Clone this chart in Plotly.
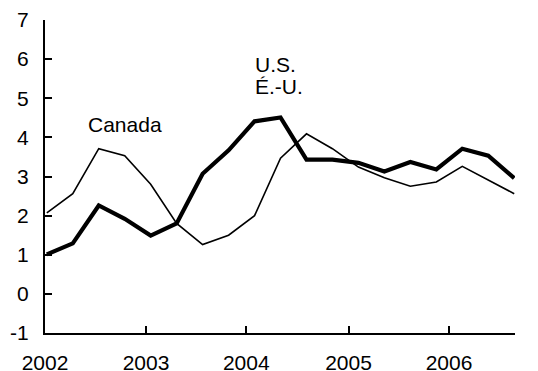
import plotly.graph_objects as go

# Quarterly observations, 2002Q1 .. 2006Q3
quarters = [f"{y}Q{q}" for y in range(2002, 2007) for q in range(1, 5)][:19]
canada = [2.07, 2.56, 3.71, 3.53, 2.80, 1.80, 1.26, 1.50, 2.00, 3.47,
          4.09, 3.71, 3.24, 2.97, 2.75, 2.86, 3.26, 2.92, 2.56]
us = [1.01, 1.29, 2.26, 1.92, 1.49, 1.80, 3.07, 3.67, 4.41, 4.51,
      3.43, 3.43, 3.35, 3.13, 3.37, 3.18, 3.71, 3.53, 2.96]
year_labels = ["2002", "2003", "2004", "2005", "2006"]
year_tick_pos = [-0.07, 3.82, 7.68, 11.62, 15.49]
y_ticks = list(range(-1, 8))
y_tick_labels = ["-1", "0", "1", "2", "3", "4", "5", "6", "7"]

FONT = "Liberation Sans, Arial, Helvetica, sans-serif"
idx = list(range(len(quarters)))

fig = go.Figure()
fig.add_trace(go.Scatter(x=idx, y=canada, mode="lines", name="Canada",
                         line=dict(color="black", width=1.6),
                         customdata=quarters, hovertemplate="%{customdata}: %{y}<extra>Canada</extra>"))
fig.add_trace(go.Scatter(x=idx, y=us, mode="lines", name="U.S. / É.-U.",
                         line=dict(color="black", width=4.2),
                         customdata=quarters, hovertemplate="%{customdata}: %{y}<extra>U.S.</extra>"))

# the page body adds an 8px offset; margins compensate so the plot lands where the reference has it
fig.update_layout(
    width=538, height=371,
    autosize=False,
    margin=dict(l=37, r=31, t=12, b=46, autoexpand=False),
    paper_bgcolor="white", plot_bgcolor="white",
    showlegend=False,
    font=dict(family=FONT, size=21, color="black"),
    xaxis=dict(range=[-0.07, 18.03], tickmode="array", tickvals=year_tick_pos,
               ticktext=year_labels, ticks="inside", ticklen=7, tickwidth=2,
               tickcolor="black", showline=True, linewidth=2, linecolor="black",
               showgrid=False, zeroline=False, ticklabelstandoff=10,
               automargin=False, tickfont=dict(size=21)),
    yaxis=dict(range=[-1, 7], tickmode="array", tickvals=y_ticks,
               ticktext=y_tick_labels,
               ticks="inside", ticklen=7, tickwidth=2, tickcolor="black",
               showline=True, linewidth=2, linecolor="black",
               showgrid=False, zeroline=False, ticklabelstandoff=10,
               automargin=False, tickfont=dict(size=21)),
    annotations=[
        dict(text="Canada", x=1.52, y=4.32, xref="x", yref="y", xanchor="left",
             yanchor="middle", showarrow=False, font=dict(size=21)),
        dict(text="U.S.", x=7.95, y=5.87, xref="x", yref="y", xanchor="left",
             yanchor="middle", showarrow=False, font=dict(size=21)),
        dict(text="É.-U.", x=7.95, y=5.30, xref="x", yref="y", xanchor="left",
             yanchor="middle", showarrow=False, font=dict(size=21)),
        dict(text="per cent change", x=0.5, y=1, xref="paper", yref="paper",
             xanchor="center", yanchor="bottom", yshift=11, showarrow=False,
             font=dict(size=18)),
    ],
)

fig.write_html("out.html")
